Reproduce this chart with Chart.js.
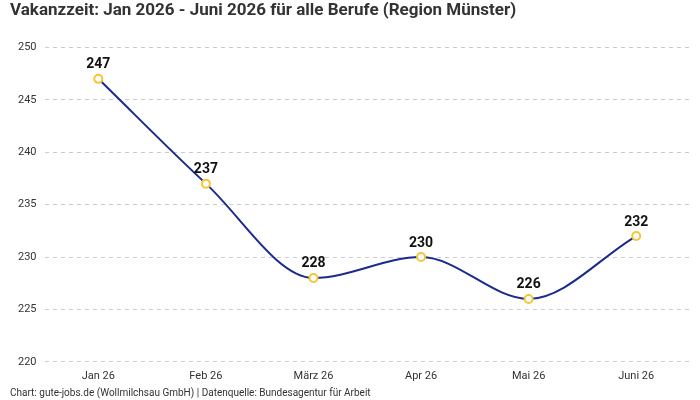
<!DOCTYPE html>
<html>
<head>
<meta charset="utf-8">
<script src="https://cdn.jsdelivr.net/npm/chart.js@4/dist/chart.umd.min.js"></script>
<style>
  body { margin: 0; background: #fff; }
  #wrap { width: 700px; height: 400px; }
</style>
</head>
<body>
<div id="wrap"><canvas id="chart"></canvas></div>
<script>
// data
const monate = ['Jan 26', 'Feb 26', 'März 26', 'Apr 26', 'Mai 26', 'Juni 26'];
const vakanzTage = [247, 237, 228, 230, 226, 232];

// draws the value above each point
const wertLabels = {
    id: 'wertLabels',
    afterDatasetsDraw(chart) {
        const ctx = chart.ctx;
        const meta = chart.getDatasetMeta(0);
        ctx.save();
        ctx.font = 'bold 14px Roboto, sans-serif';
        ctx.fillStyle = '#111';
        ctx.textAlign = 'center';
        ctx.textBaseline = 'bottom';
        meta.data.forEach((pt, i) => {
            ctx.fillText(vakanzTage[i], pt.x, pt.y - 7);
        });
        ctx.restore();
    }
};

new Chart(document.querySelector('#chart').getContext('2d'), {
    type: 'line',
    data: {
        labels: monate,
        datasets: [{
            label: 'Vakanzzeit',
            data: vakanzTage,
            borderColor: '#1b2a8c',
            borderWidth: 2,
            cubicInterpolationMode: 'monotone',
            pointRadius: 4,
            pointBorderWidth: 2,
            pointBorderColor: '#f7c531',
            pointBackgroundColor: '#fff'
        }]
    },
    options: {
        responsive: true,
        maintainAspectRatio: false,
        animation: false,
        layout: { padding: { left: 10, right: 10, top: 0, bottom: 0 } },
        plugins: {
            legend: { display: false },
            tooltip: { enabled: false },
            title: {
                display: true,
                text: 'Vakanzzeit: Jan 2026 - Juni 2026 für alle Berufe (Region Münster)',
                align: 'start',
                color: '#333',
                font: { family: 'Roboto, sans-serif', size: 17, weight: 'bold' },
                padding: { top: 1, bottom: 26 }
            },
            subtitle: {
                display: true,
                position: 'bottom',
                text: 'Chart: gute-jobs.de (Wollmilchsau GmbH) | Datenquelle: Bundesagentur für Arbeit',
                align: 'start',
                color: '#333',
                font: { family: 'Roboto, sans-serif', size: 10 },
                padding: { top: 4, bottom: 1 }
            }
        },
        scales: {
            x: {
                offset: true,
                grid: { display: false },
                border: { display: false },
                ticks: { color: '#333', font: { family: 'Roboto, sans-serif', size: 11 }, padding: 0 }
            },
            y: {
                min: 220,
                max: 250,
                ticks: { stepSize: 5, color: '#333', font: { family: 'Roboto, sans-serif', size: 11 }, padding: 8 },
                grid: { color: '#cccccc', drawTicks: false },
                border: { display: false, dash: [4, 4] }
            }
        }
    },
    plugins: [wertLabels]
});
</script>
</body>
</html>
